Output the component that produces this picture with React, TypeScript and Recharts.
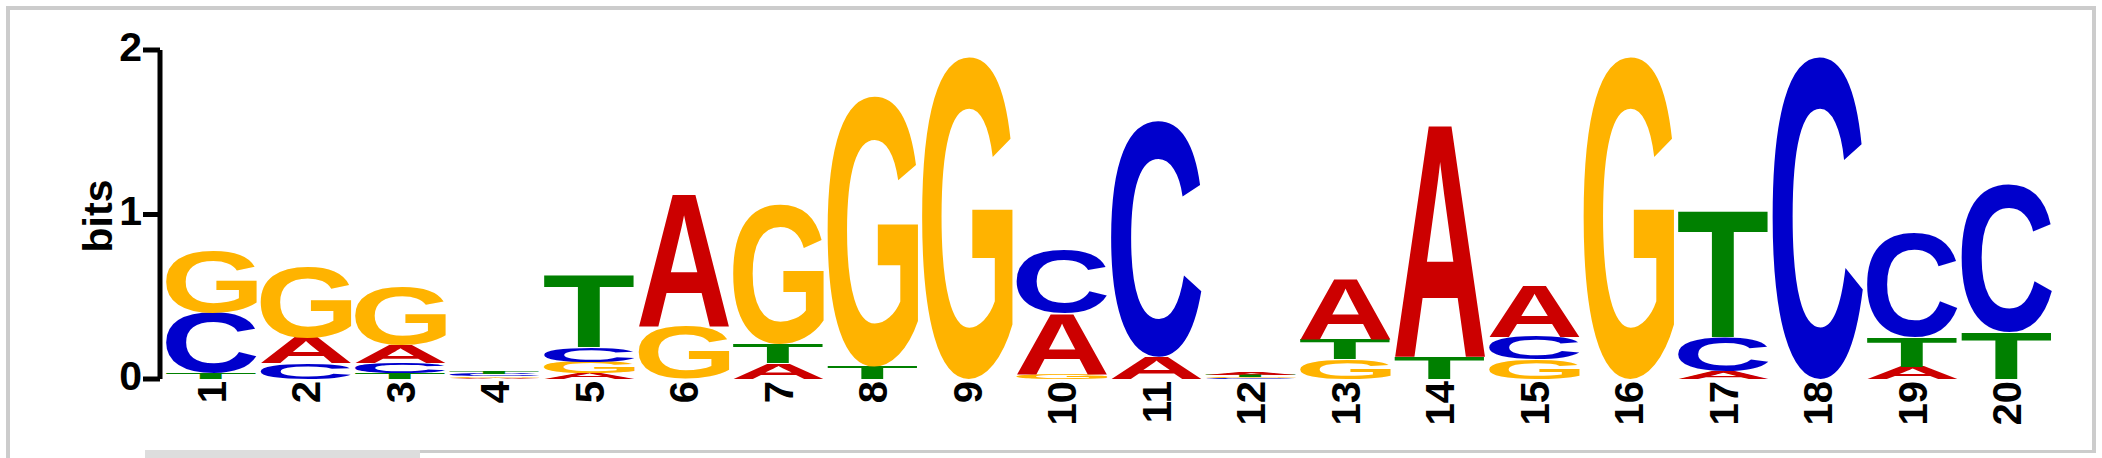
import React from "react";
import { BarChart, Bar, XAxis, YAxis } from "recharts";

// motif positions and information content (bits) per base
const positions = ["1", "2", "3", "4", "5", "6", "7", "8", "9", "10", "11", "12", "13", "14", "15", "16", "17", "18", "19", "20"];
const bitsA = [0, 0.155, 0.11, 0.008, 0.035, 0.81, 0.095, 0, 0, 0.373, 0.135, 0.015, 0.37, 1.424, 0.313, 0, 0.044, 0, 0.075, 0];
const bitsC = [0.37, 0.095, 0.06, 0.012, 0.09, 0, 0, 0, 0, 0.384, 1.435, 0.006, 0, 0, 0.141, 0, 0.21, 1.96, 0.635, 0.9];
const bitsG = [0.375, 0.43, 0.35, 0.01, 0.07, 0.317, 0.85, 1.645, 1.96, 0.03, 0, 0.009, 0.122, 0, 0.117, 1.96, 0, 0, 0, 0];
const bitsT = [0.035, 0, 0.035, 0.014, 0.44, 0, 0.12, 0.075, 0, 0, 0, 0.012, 0.124, 0.135, 0, 0, 0.775, 0, 0.18, 0.287];
const yTicks = [0, 1, 2];

const baseColors: Record<string, string> = {
  A: "#CC0000",
  C: "#0000CC",
  G: "#FFB300",
  T: "#008000",
};

const FONT = '"Liberation Sans", Arial, Helvetica, sans-serif';

// each column is stacked smallest at the bottom, tallest on top
const rows = positions.map((pos, i) => {
  const cells = [
    { base: "A", v: bitsA[i] },
    { base: "C", v: bitsC[i] },
    { base: "G", v: bitsG[i] },
    { base: "T", v: bitsT[i] },
  ].sort((a, b) => a.v - b.v);
  const row: Record<string, any> = { pos };
  cells.forEach((c, k) => {
    row[`r${k}`] = c.v;
    row[`b${k}`] = c.base;
  });
  return row;
});

// ink box of each letter at 100px, so a glyph can be stretched to fill its rect
const fallbackBox: Record<string, number[]> = {
  A: [0, 72.2, 71.6, 0],
  C: [-4.2, 67.4, 73.4, 1.8],
  G: [-4.3, 72.6, 73.4, 1.8],
  T: [-1.9, 59.2, 71.6, 0],
};
const boxCache: Record<string, number[]> = {};
function glyphBox(base: string) {
  if (boxCache[base]) return boxCache[base];
  let box = fallbackBox[base];
  try {
    const ctx = document.createElement("canvas").getContext("2d");
    if (ctx) {
      ctx.font = `bold 100px ${FONT}`;
      const m = ctx.measureText(base);
      const b = [m.actualBoundingBoxLeft, m.actualBoundingBoxRight, m.actualBoundingBoxAscent, m.actualBoundingBoxDescent];
      if (b.every((n) => Number.isFinite(n)) && b[1] + b[0] > 10 && b[2] + b[3] > 10) box = b;
    }
  } catch (e) {
    // keep fallback
  }
  boxCache[base] = box;
  return box;
}

function Letter(props: any) {
  const { x, y, width, height, payload, rank } = props;
  if (!payload || !(height > 0.15) || !(width > 0)) return null;
  const base = payload[`b${rank}`];
  const [l, r, a, d] = glyphBox(base);
  const sx = width / (l + r);
  const sy = height / (a + d);
  return (
    <g transform={`translate(${x}, ${y}) scale(${sx}, ${sy})`}>
      <text
        x={l}
        y={a}
        fontFamily={FONT}
        fontWeight="bold"
        fontSize={100}
        fill={baseColors[base]}
      >
        {base}
      </text>
    </g>
  );
}

function PositionTick(props: any) {
  const { x, payload } = props;
  return (
    <text
      transform={`translate(${x + 14.5}, 381) rotate(-90)`}
      textAnchor="end"
      fontFamily={FONT}
      fontWeight="bold"
      fontSize={40}
      fill="#000"
    >
      {payload.value}
    </text>
  );
}

function BitsTick(props: any) {
  const { y, payload } = props;
  return (
    <text
      x={142}
      y={y + 10.5}
      textAnchor="end"
      fontFamily={FONT}
      fontWeight="bold"
      fontSize={41}
      fill="#000"
    >
      {payload.value}
    </text>
  );
}

const frame = "#cccccc";

export default function App() {
  return (
    <div style={{ position: "absolute", left: 0, top: 0, width: 2102, height: 458, background: "#fff", overflow: "hidden" }}>
      <div style={{ position: "absolute", left: 6, top: 6, width: 2090, height: 4, background: frame }} />
      <div style={{ position: "absolute", left: 6, top: 6, width: 4, height: 452, background: frame }} />
      <div style={{ position: "absolute", left: 2092, top: 6, width: 4, height: 447, background: frame }} />
      <div style={{ position: "absolute", left: 420, top: 450, width: 1676, height: 3, background: frame }} />
      <div style={{ position: "absolute", left: 145, top: 450, width: 275, height: 8, background: "#dddddd" }} />
      <div style={{ position: "absolute", left: 0, top: 0 }}>
        <BarChart
          width={2102}
          height={458}
          data={rows}
          margin={{ top: 50, right: 48, bottom: 49, left: 100 }}
          barCategoryGap={2}
        >
          <XAxis
            dataKey="pos"
            height={30}
            axisLine={false}
            tickLine={false}
            padding={{ left: 4, right: 0 }}
            interval={0}
            tick={<PositionTick />}
          />
          <YAxis
            type="number"
            width={60}
            domain={[0, 2]}
            ticks={yTicks}
            axisLine={{ stroke: "#000", strokeWidth: 5 }}
            tickLine={{ stroke: "#000", strokeWidth: 5 }}
            tickSize={17}
            tick={<BitsTick />}
          />
          {[0, 1, 2, 3].map((k) => (
            <Bar
              key={k}
              dataKey={`r${k}`}
              stackId="logo"
              isAnimationActive={false}
              shape={(p: any) => <Letter {...p} rank={k} />}
            />
          ))}
        </BarChart>
      </div>
      <svg width={2102} height={458} style={{ position: "absolute", left: 0, top: 0, pointerEvents: "none" }}>
        <text
          transform="translate(112, 216) rotate(-90)"
          textAnchor="middle"
          fontFamily={FONT}
          fontWeight="bold"
          fontSize={41}
          fill="#000"
        >
          bits
        </text>
      </svg>
    </div>
  );
}
